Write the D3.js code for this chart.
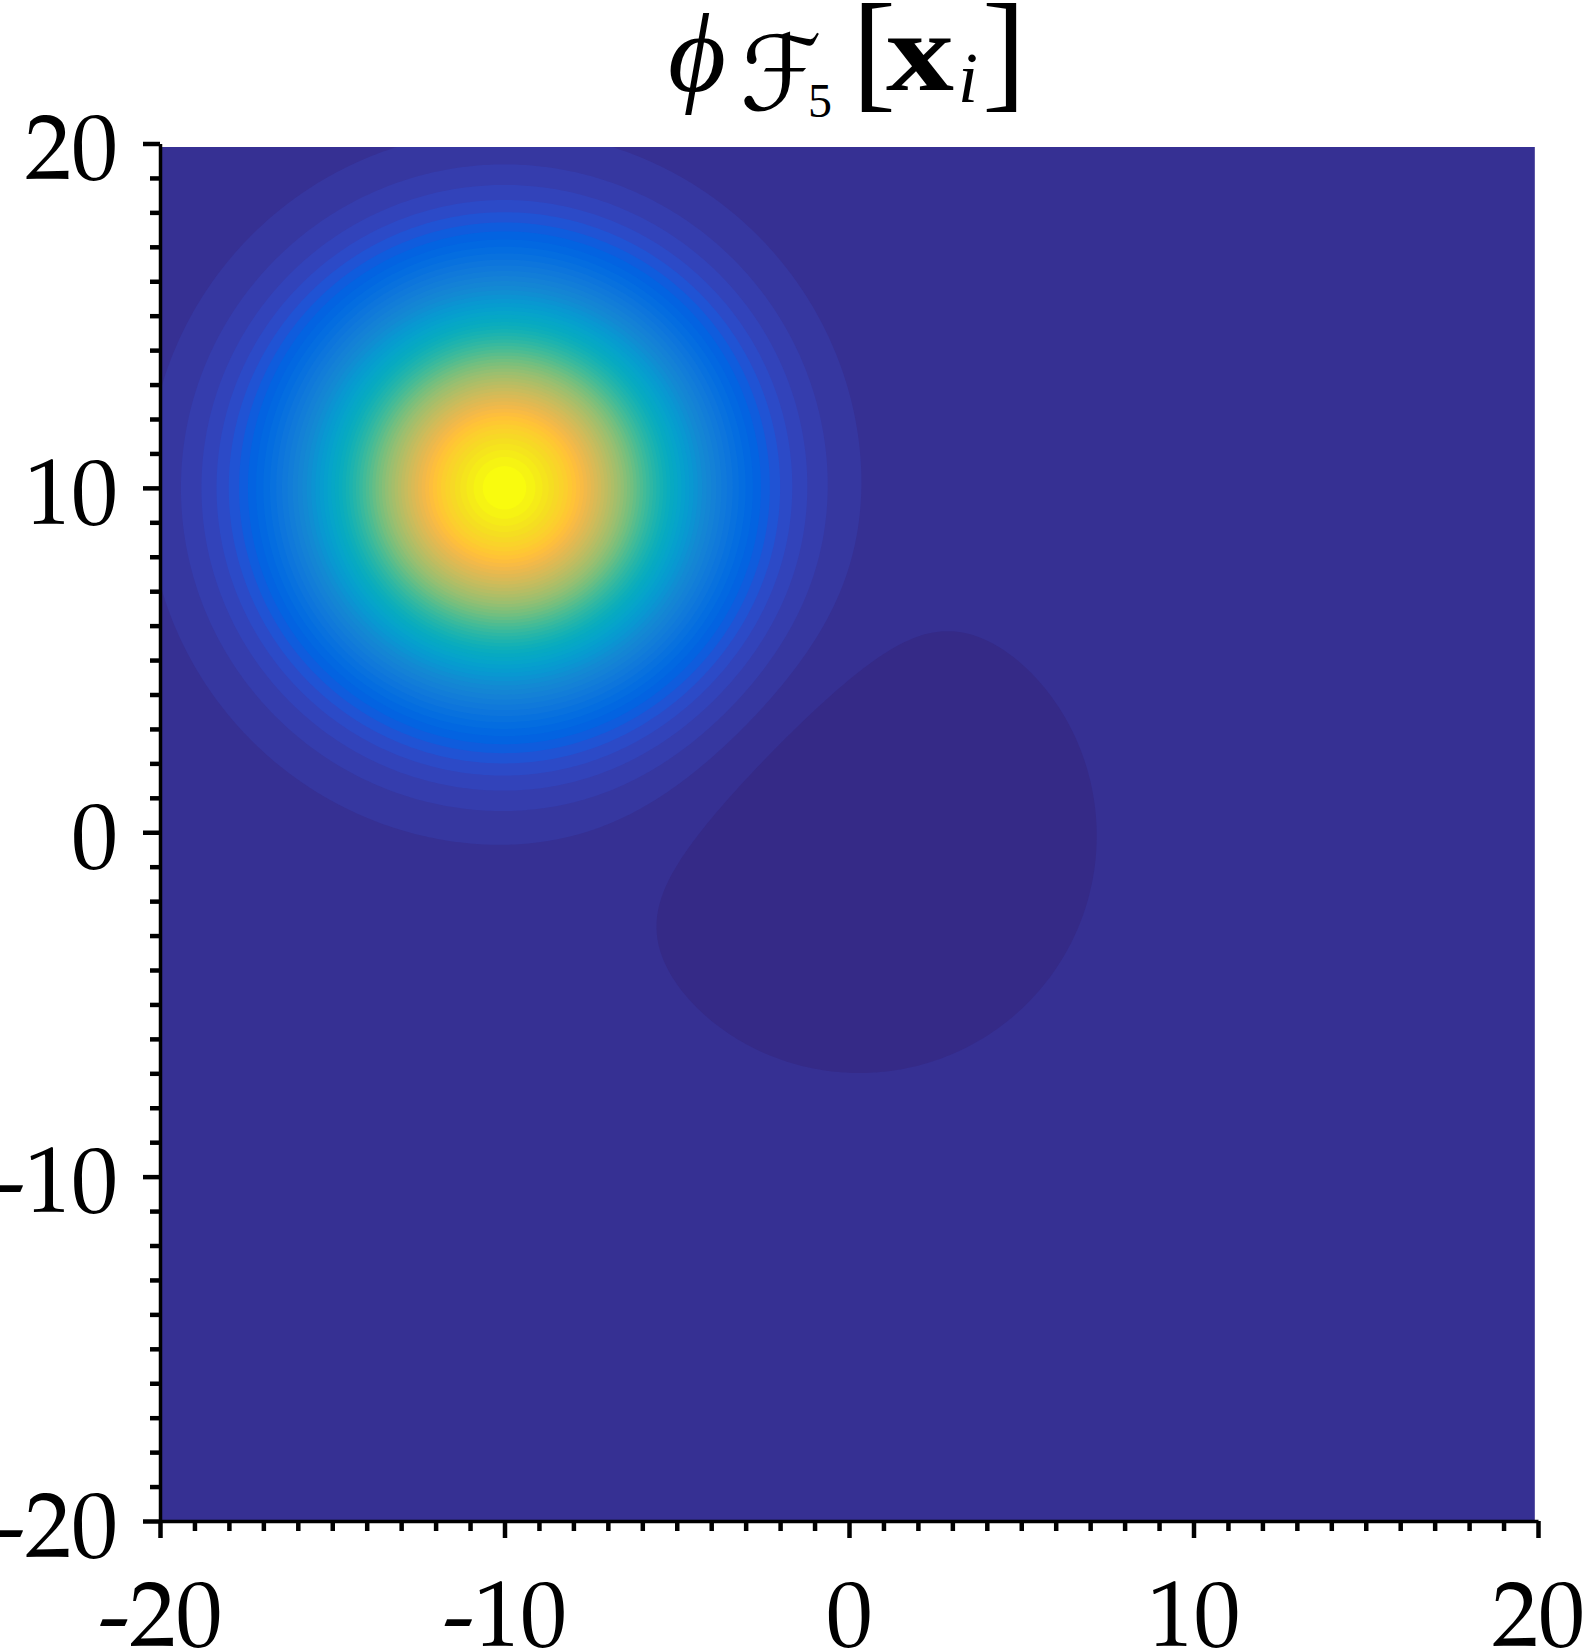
<!DOCTYPE html>
<html><head><meta charset="utf-8">
<script src="https://cdn.jsdelivr.net/npm/d3@7"></script>
<style>html,body{margin:0;padding:0;background:#fff;} svg{display:block}</style>
</head><body>
<svg id="chart" width="1584" height="1648"></svg>
<script>
// ---------------- data ----------------
const xDomain = [-20, 20];
const yDomain = [-20, 20];
const gridStart = [-20, -20];          // first sampled node (x, y)
const gridEnd = [19.9, 19.9];          // last sampled node (x, y)
const gridStep = 0.1;
const peakCenters = [[-10, 10], [0.3, -0.1]];
const peakAmplitudes = [1, -0.0186];
const peakWidths = [25, 23.5];         // 2*sigma^2 of each component
const levelCount = 64;
const majorTicks = [-20, -10, 0, 10, 20];
const minorTicks = [-19,-18,-17,-16,-15,-14,-13,-12,-11,-9,-8,-7,-6,-5,-4,-3,-2,-1,
                    1,2,3,4,5,6,7,8,9,11,12,13,14,15,16,17,18,19];
const parula = [
[0.2081,0.1663,0.5292],[0.2116,0.1898,0.5777],[0.2123,0.2138,0.6270],[0.2081,0.2386,0.6771],
[0.1959,0.2645,0.7279],[0.1707,0.2919,0.7792],[0.1253,0.3242,0.8303],[0.0591,0.3598,0.8683],
[0.0117,0.3875,0.8820],[0.0060,0.4086,0.8828],[0.0165,0.4266,0.8786],[0.0329,0.4430,0.8720],
[0.0498,0.4586,0.8641],[0.0629,0.4737,0.8554],[0.0723,0.4887,0.8467],[0.0779,0.5040,0.8384],
[0.0793,0.5200,0.8312],[0.0749,0.5375,0.8263],[0.0641,0.5570,0.8240],[0.0488,0.5772,0.8228],
[0.0343,0.5966,0.8199],[0.0265,0.6137,0.8135],[0.0239,0.6287,0.8038],[0.0231,0.6418,0.7913],
[0.0228,0.6535,0.7768],[0.0267,0.6642,0.7607],[0.0384,0.6743,0.7436],[0.0590,0.6838,0.7254],
[0.0843,0.6928,0.7062],[0.1133,0.7015,0.6859],[0.1453,0.7098,0.6646],[0.1801,0.7177,0.6424],
[0.2178,0.7250,0.6193],[0.2586,0.7317,0.5954],[0.3022,0.7376,0.5712],[0.3482,0.7424,0.5473],
[0.3953,0.7459,0.5244],[0.4420,0.7481,0.5033],[0.4871,0.7491,0.4840],[0.5300,0.7491,0.4661],
[0.5709,0.7485,0.4494],[0.6099,0.7473,0.4337],[0.6473,0.7456,0.4188],[0.6834,0.7435,0.4044],
[0.7184,0.7411,0.3905],[0.7525,0.7384,0.3768],[0.7858,0.7356,0.3633],[0.8185,0.7327,0.3498],
[0.8507,0.7299,0.3360],[0.8824,0.7274,0.3217],[0.9139,0.7258,0.3063],[0.9450,0.7261,0.2886],
[0.9739,0.7314,0.2666],[0.9938,0.7455,0.2403],[0.9990,0.7653,0.2164],[0.9955,0.7861,0.1967],
[0.9880,0.8066,0.1794],[0.9789,0.8271,0.1633],[0.9697,0.8481,0.1475],[0.9626,0.8705,0.1309],
[0.9589,0.8949,0.1132],[0.9598,0.9218,0.0948],[0.9661,0.9514,0.0755],[0.9763,0.9831,0.0538]];

// ---------------- layout ----------------
const svg = d3.select("#chart");
const x = d3.scaleLinear().domain(xDomain).range([160, 1538]);
const y = d3.scaleLinear().domain(yDomain).range([1521, 143.5]);

// ---------------- field on grid ----------------
const nx = Math.round((gridEnd[0] - gridStart[0]) / gridStep) + 1;
const ny = Math.round((gridEnd[1] - gridStart[1]) / gridStep) + 1;
const values = new Float64Array(nx * ny);
for (let j = 0; j < ny; j++) {
  const yy = gridStart[1] + j * gridStep;
  for (let i = 0; i < nx; i++) {
    const xx = gridStart[0] + i * gridStep;
    let v = 0;
    for (let k = 0; k < peakCenters.length; k++) {
      const dx = xx - peakCenters[k][0], dy = yy - peakCenters[k][1];
      v += peakAmplitudes[k] * Math.exp(-(dx * dx + dy * dy) / peakWidths[k]);
    }
    values[j * nx + i] = v;
  }
}
const [zmin, zmax] = d3.extent(values);
const dz = (zmax - zmin) / levelCount;
const levels = d3.range(levelCount).map(k => k === 0 ? zmin - 1e-9 : zmin + k * dz);

const contours = d3.contours().size([nx, ny]).thresholds(levels)(values);
const proj = d3.geoTransform({
  point(px, py) {
    this.stream.point(x(gridStart[0] + (px - 0.5) * gridStep), y(gridStart[1] + (py - 0.5) * gridStep));
  }
});
const path = d3.geoPath(proj);
const color = k => d3.rgb(parula[k][0] * 255, parula[k][1] * 255, parula[k][2] * 255).toString();

svg.append("clipPath").attr("id", "plotclip").append("rect")
  .attr("x", x(gridStart[0])).attr("y", y(gridEnd[1]))
  .attr("width", x(gridEnd[0]) - x(gridStart[0]))
  .attr("height", y(gridStart[1]) - y(gridEnd[1]));

svg.append("g").attr("clip-path", "url(#plotclip)")
  .selectAll("path").data(contours).join("path")
  .attr("d", path)
  .attr("fill", (d, i) => color(i))
  .attr("stroke", "none");

// ---------------- axes ----------------
const fontFam = "'Palatino Linotype','TeX Gyre Pagella','URW Palladio L','Liberation Serif',serif";
function styleAxis(g, w) {
  g.selectAll(".tick line").attr("stroke", "#000").attr("stroke-width", w);
  g.selectAll(".tick text").attr("fill", "#000");
  g.attr("font-family", fontFam).attr("font-size", 93);
}
// minor ticks
svg.append("g").attr("transform", `translate(${x(-20)},0)`)
  .call(d3.axisLeft(y).tickValues(minorTicks).tickSize(10).tickFormat(""))
  .call(g => g.select(".domain").remove()).call(g => styleAxis(g, 4.5));
svg.append("g").attr("transform", `translate(0,${y(-20)})`)
  .call(d3.axisBottom(x).tickValues(minorTicks).tickSize(10).tickFormat(""))
  .call(g => g.select(".domain").remove()).call(g => styleAxis(g, 4.5));
// major ticks + labels
const gyA = svg.append("g").attr("transform", `translate(${x(-20)},0)`)
  .call(d3.axisLeft(y).tickValues(majorTicks).tickSize(17).tickSizeOuter(0).tickPadding(25).tickFormat(d => String(d)))
  .call(g => styleAxis(g, 4.5));
gyA.selectAll(".tick text").attr("dy", "0.38em");
gyA.select(".domain").attr("stroke", "#000").attr("stroke-width", 3.5);
const gxA = svg.append("g").attr("transform", `translate(0,${y(-20)})`)
  .call(d3.axisBottom(x).tickValues(majorTicks).tickSize(17).tickSizeOuter(0).tickPadding(42).tickFormat(d => String(d)))
  .call(g => styleAxis(g, 4.5));
gxA.select(".domain").attr("stroke", "#000").attr("stroke-width", 3.5);

// ---------------- title: phi_{F_5}[x_i] ----------------
const t = svg.append("g").attr("fill", "#000");
t.append("text").attr("x", 668).attr("y", 91).attr("font-family", "'Liberation Serif','DejaVu Serif',serif")
  .attr("font-style", "italic").attr("font-size", 112).text("\u03D5");
t.append("text").attr("x", 740).attr("y", 110).attr("font-family", "'DejaVu Serif','DejaVu Sans',serif")
  .attr("font-size", 104).text("\u2131");
t.append("text").attr("x", 808).attr("y", 117).attr("font-family", "'Liberation Serif',serif")
  .attr("font-size", 48).text("5");
t.append("text").attr("x", 852).attr("y", 94).attr("font-family", "'Liberation Serif',serif")
  .attr("font-size", 132).text("[");
t.append("text").attr("x", 886).attr("y", 90).attr("font-family", "'Liberation Serif',serif")
  .attr("font-weight", "bold").attr("font-size", 112)
  .attr("textLength", 68).attr("lengthAdjust", "spacingAndGlyphs").text("x");
t.append("text").attr("x", 958).attr("y", 102).attr("font-family", "'Liberation Serif',serif")
  .attr("font-style", "italic").attr("font-size", 72).text("i");
t.append("text").attr("x", 982).attr("y", 94).attr("font-family", "'Liberation Serif',serif")
  .attr("font-size", 132).text("]");
</script>
</body></html>
